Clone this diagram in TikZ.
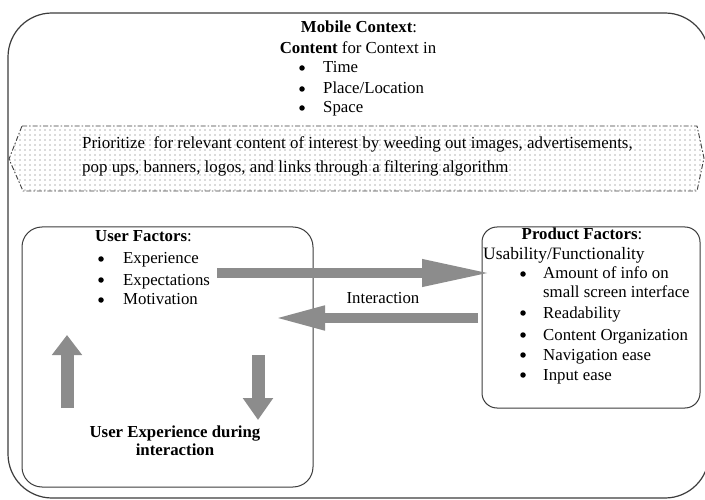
\documentclass[tikz,border=0pt]{standalone}
\usepackage{fontspec}
\setmainfont{Liberation Serif}
\usetikzlibrary{arrows.meta,patterns.meta}
\definecolor{arrowgray}{RGB}{140,140,140}
\definecolor{edgegray}{RGB}{60,60,60}
\begin{document}
\begin{tikzpicture}[x=1pt,y=1pt,
  txt/.style={inner sep=0pt, font=\fontsize{16.8}{20}\selectfont, anchor=base west},
  ctxt/.style={inner sep=0pt, font=\fontsize{16.8}{20}\selectfont, anchor=base},
  dot/.style={circle, fill=black, inner sep=0pt, minimum size=5.5pt},
  boxline/.style={draw=edgegray, line width=1.2pt},
  hexband/.style={draw=gray!50!black, line width=0.9pt, dash pattern=on 5pt off 2pt on 1.5pt off 2pt,
    pattern={Dots[distance=5pt,radius=0.6pt]}, pattern color=black!60},
  blockarrow/.style={draw=arrowgray, line cap=butt}
]
\useasboundingbox (0,0) rectangle (705,-500);
\clip (0,0) rectangle (705,-500);
\fill[white] (0,0) rectangle (705,-500);

% outer context box
\draw[boxline, rounded corners=44pt] (8,-13) rectangle (709,-498);

% filtering band
\draw[hexband] (22,-126) -- (697,-126) -- (704,-158) -- (697,-191) -- (23,-191) -- (9,-159) -- cycle;
\node[txt, font=\fontsize{16.9}{24}\selectfont] (p1) at (82,-149) {Prioritize\ \ for relevant\ content of interest by weeding out images, advertisements,};
\node[txt, font=\fontsize{16.9}{24}\selectfont] (p2) at (82,-173) {pop ups, banners, logos, and links through a filtering algorithm};

% top text
\node[ctxt] (mc) at (359,-33) {\textbf{Mobile Context}:};
\node[ctxt] (ct) at (358,-54) {\textbf{Content} for Context in};
\node[dot] (b1) at (302,-68) {};
\node[txt] (t1) at (323,-73) {Time};
\node[dot] (b2) at (302,-89) {};
\node[txt] (t2) at (323,-94) {Place/Location};
\node[dot] (b3) at (302,-108) {};
\node[txt] (t3) at (323,-113) {Space};

% user factors box
\draw[boxline, line width=1pt, rounded corners=20pt] (22,-227) rectangle (313,-487);
\node[txt] (uf) at (95,-242) {\textbf{User Factors}:};
\node[dot] (ub1) at (101,-259) {};
\node[txt] (u1) at (123,-264) {Experience};
\node[dot] (ub2) at (101,-280) {};
\node[txt] (u2) at (123,-285) {Expectations};
\node[dot] (ub3) at (101,-300) {};
\node[txt] (u3) at (123,-305) {Motivation};
\node[ctxt] (ux1) at (175,-437) {\textbf{User Experience during}};
\node[ctxt] (ux2) at (175,-455) {\textbf{interaction}};

% product factors box
\draw[boxline, line width=1pt, rounded corners=15pt] (482,-227) rectangle (700,-408);
\node[ctxt] (pf) at (582,-240) {\textbf{Product Factors}:};
\node[txt, font=\fontsize{17.4}{20}\selectfont] (pu) at (483,-259) {Usability/Functionality};
\node[dot] (pb1) at (523,-274) {};
\node[txt] (q1) at (543,-279) {Amount of info on};
\node[txt] (q1b) at (543,-298) {small\ screen interface};
\node[dot] (pb2) at (523,-313) {};
\node[txt] (q2) at (543,-318) {Readability};
\node[dot] (pb3) at (523,-335) {};
\node[txt] (q3) at (543,-340) {Content Organization};
\node[dot] (pb4) at (523,-355) {};
\node[txt] (q4) at (543,-360) {Navigation ease};
\node[dot] (pb5) at (523,-375) {};
\node[txt] (q5) at (543,-380) {Input ease};

\node[ctxt] (inter) at (383,-303) {Interaction};

% block arrows
\coordinate (rA) at (217,-273);
\coordinate (rB) at (492,-273);
\coordinate (lA) at (478,-318);
\coordinate (lB) at (273,-318);
\coordinate (uA) at (67,-408);
\coordinate (uB) at (67,-335);
\coordinate (dA) at (258,-355);
\coordinate (dB) at (258,-420);
\draw[blockarrow, line width=10pt, -{Triangle[length=70pt,width=25pt,fill=arrowgray,color=arrowgray]}] (rA) -- (rB);
\draw[blockarrow, line width=10pt, -{Triangle[length=52pt,width=22pt,fill=arrowgray,color=arrowgray]}] (lA) -- (lB);
\draw[blockarrow, line width=13pt, -{Triangle[length=20pt,width=29pt,fill=arrowgray,color=arrowgray]}] (uA) -- (uB);
\draw[blockarrow, line width=13pt, -{Triangle[length=22pt,width=29pt,fill=arrowgray,color=arrowgray]}] (dA) -- (dB);
\end{tikzpicture}
\end{document}
